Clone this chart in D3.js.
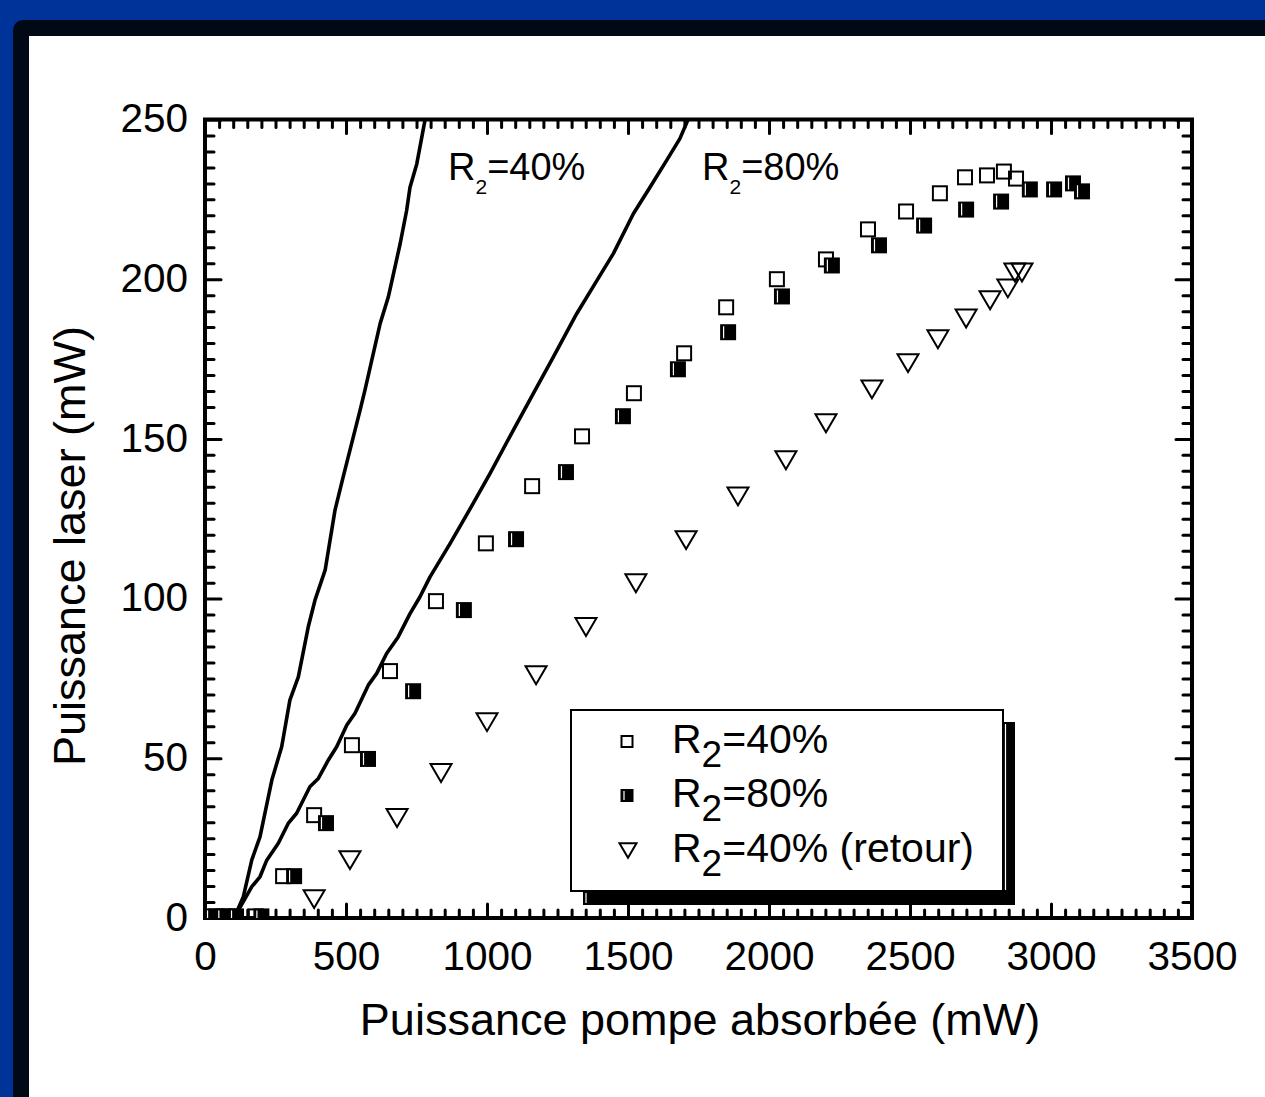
<!DOCTYPE html>
<html><head><meta charset="utf-8">
<script src="https://cdn.jsdelivr.net/npm/d3@7"></script>
<style>
html,body{margin:0;padding:0;background:#003399;}
svg{display:block;}
text{font-family:"Liberation Sans",Arial,Helvetica,sans-serif;fill:#000;}
</style></head>
<body>
<script>
// ---- data ----
const xTicks = [0, 500, 1000, 1500, 2000, 2500, 3000, 3500];
const yTicks = [0, 50, 100, 150, 200, 250];

// open squares : R2=40%
const r40x = [40, 85, 180, 277, 387, 521, 656, 819, 996, 1160, 1337, 1521, 1699, 1848, 2028, 2202, 2351, 2486, 2606, 2695, 2773, 2833, 2876];
const r40y = [0.5, 0.5, 0.5, 13.1, 32.2, 54.1, 77.3, 99.2, 117.3, 135.2, 150.8, 164.3, 176.8, 191.2, 200.0, 206.2, 215.6, 221.2, 226.9, 231.9, 232.5, 233.7, 231.5];
// filled squares : R2=80%
const r80x = [25, 65, 110, 200, 316, 429, 578, 738, 918, 1103, 1280, 1482, 1677, 1855, 2046, 2223, 2390, 2550, 2699, 2823, 2925, 3011, 3078, 3110];
const r80y = [0.5, 0.5, 0.5, 0.5, 13.1, 29.7, 49.8, 71.0, 96.4, 118.6, 139.6, 157.1, 171.8, 183.4, 194.6, 204.3, 210.6, 216.8, 221.8, 224.3, 228.1, 228.1, 230.0, 227.5];
// triangles : R2=40% (retour)
const retx = [387, 514, 681, 837, 1000, 1174, 1351, 1528, 1706, 1890, 2060, 2202, 2365, 2493, 2599, 2699, 2784, 2847, 2872, 2897];
const rety = [5.9, 18.1, 31.3, 45.4, 61.3, 76.0, 91.1, 104.8, 118.3, 132.0, 143.3, 154.9, 165.5, 173.7, 181.2, 187.7, 193.4, 197.1, 202.1, 202.1];

// theoretical curves
const th40x = [0, 103, 136, 166, 195, 237, 272, 301, 331, 366, 390, 426, 461, 490, 550, 567, 621, 650, 692, 715, 727, 751, 780, 790];
const th40y = [0, 0, 6.7, 18.2, 25.4, 43.2, 53.6, 68.2, 75.5, 91.1, 99.5, 108.9, 127.7, 138.1, 159.0, 165.2, 186.1, 194.4, 211.1, 221.5, 228.8, 236.1, 249.7, 253];
const th80x = [0, 103, 166, 195, 219, 260, 295, 325, 372, 402, 437, 467, 503, 532, 579, 609, 644, 685, 727, 762, 798, 869, 951, 1011, 1093, 1164, 1235, 1318, 1383, 1448, 1519, 1578, 1637, 1684, 1713, 1720];
const th80y = [0, 0, 9.8, 12.9, 18.1, 23.4, 29.6, 32.8, 41.1, 43.7, 49.4, 53.6, 60.4, 64.1, 72.9, 76.6, 82.8, 88.0, 95.3, 100.5, 106.8, 117.2, 129.8, 139.2, 152.7, 164.2, 175.6, 189.2, 198.6, 208.0, 220.5, 228.8, 237.2, 244.0, 250.0, 252];

const legendLabels = ["=40%", "=80%", "=40% (retour)"];
const xTitle = "Puissance pompe absorbée (mW)";
const yTitle = "Puissance laser (mW)";

// ---- drawing ----
const W = 1265, H = 1097;
const svg = d3.select("body").append("svg").attr("width", W).attr("height", H);

svg.append("rect").attr("width", W).attr("height", H).attr("fill", "#003399");
svg.append("rect").attr("x", 13).attr("y", 20).attr("width", W + 40).attr("height", H + 40)
  .attr("rx", 10).attr("fill", "#010816");
svg.append("rect").attr("x", 29).attr("y", 36).attr("width", W).attr("height", H).attr("fill", "#fff");

const x = d3.scaleLinear().domain([0, 3500]).range([205, 1192]);
const y = d3.scaleLinear().domain([0, 250]).range([918, 119.5]);

const FS = 40.5;
const tickW = 3;

svg.append("defs").append("clipPath").attr("id", "plotclip")
  .append("rect").attr("x", x(0)).attr("y", y(250)).attr("width", x(3500) - x(0)).attr("height", y(0) - y(250));

const xMinor = d3.range(0, 3501, 50).filter(v => v % 500 !== 0);
const yMinor = d3.range(0, 251, 5).filter(v => v % 50 !== 0);

function tickStyle(g) {
  g.selectAll(".domain").remove();
  g.selectAll(".tick line").attr("stroke", "#000").attr("stroke-width", tickW).attr("stroke-linecap", "round");
}

// bottom axis
const gB = svg.append("g").attr("transform", `translate(0,${y(0)})`);
gB.call(d3.axisBottom(x).tickValues(xTicks).tickSize(-14).tickFormat(d3.format("d")));
gB.append("g").call(d3.axisBottom(x).tickValues(xMinor).tickSize(-8).tickFormat(""));
tickStyle(gB);
gB.selectAll(".tick text").attr("y", 52).attr("dy", null).attr("font-size", FS)
  .attr("font-family", "'Liberation Sans',Arial,sans-serif").attr("fill", "#000");

// top axis
const gT = svg.append("g").attr("transform", `translate(0,${y(250)})`);
gT.call(d3.axisTop(x).tickValues(xTicks).tickSize(-14).tickFormat(""));
gT.append("g").call(d3.axisTop(x).tickValues(xMinor).tickSize(-8).tickFormat(""));
tickStyle(gT);

// left axis
const gL = svg.append("g").attr("transform", `translate(${x(0)},0)`);
gL.call(d3.axisLeft(y).tickValues(yTicks).tickSize(-16).tickFormat(d3.format("d")));
gL.append("g").call(d3.axisLeft(y).tickValues(yMinor).tickSize(-9).tickFormat(""));
tickStyle(gL);
gL.selectAll(".tick text").attr("x", -17).attr("dy", "0.3em").attr("font-size", FS)
  .attr("font-family", "'Liberation Sans',Arial,sans-serif").attr("fill", "#000");

// right axis
const gR = svg.append("g").attr("transform", `translate(${x(3500)},0)`);
gR.call(d3.axisRight(y).tickValues(yTicks).tickSize(-16).tickFormat(""));
gR.append("g").call(d3.axisRight(y).tickValues(yMinor).tickSize(-9).tickFormat(""));
tickStyle(gR);

// frame
svg.append("rect").attr("x", x(0)).attr("y", y(250)).attr("width", x(3500) - x(0)).attr("height", y(0) - y(250))
  .attr("fill", "none").attr("stroke", "#000").attr("stroke-width", 4);

const plot = svg.append("g").attr("clip-path", "url(#plotclip)");

// theory lines
const line = d3.line().x(d => x(d[0])).y(d => y(d[1]));
[[th40x, th40y], [th80x, th80y]].forEach(([xs, ys]) => {
  plot.append("path").datum(d3.zip(xs, ys)).attr("d", line)
    .attr("fill", "none").attr("stroke", "#000").attr("stroke-width", 3.6).attr("stroke-linejoin", "round");
});

// markers
const S = 14;
function openSquare(g, cx, cy, s) {
  g.append("rect").attr("x", cx - s / 2).attr("y", cy - s / 2).attr("width", s).attr("height", s)
    .attr("fill", "none").attr("stroke", "#000").attr("stroke-width", 2);
}
function filledSquare(g, cx, cy, s) {
  g.append("rect").attr("x", cx - s / 2).attr("y", cy - s / 2).attr("width", s).attr("height", s)
    .attr("fill", "#000").attr("stroke", "#000").attr("stroke-width", 2);
  g.append("line").attr("x1", cx - s / 2 + 2.5).attr("x2", cx - s / 2 + 2.5)
    .attr("y1", cy - s / 2 + 1).attr("y2", cy + s / 2 - 1)
    .attr("stroke", "#fff").attr("stroke-width", 1.2);
}
function triangle(g, cx, cy, w) {
  const h = w * 0.85;
  const p = d3.path();
  p.moveTo(cx - w / 2, cy - h / 2); p.lineTo(cx + w / 2, cy - h / 2); p.lineTo(cx, cy + h / 2); p.closePath();
  g.append("path").attr("d", p.toString()).attr("fill", "none").attr("stroke", "#000")
    .attr("stroke-width", 2).attr("stroke-linejoin", "miter");
}
r40x.forEach((v, i) => openSquare(plot, x(v), y(r40y[i]), S));
r80x.forEach((v, i) => filledSquare(plot, x(v), y(r80y[i]), S));
retx.forEach((v, i) => triangle(plot, x(v), y(rety[i]), 21));

// annotations on curves
function rsub(g, tx, ty, fs, subfs, subdy, rest) {
  const t = g.append("text").attr("x", tx).attr("y", ty).attr("font-size", fs);
  t.append("tspan").text("R");
  t.append("tspan").attr("font-size", subfs).attr("dy", subdy).text("2");
  t.append("tspan").attr("dy", -subdy).text(rest);
  return t;
}
rsub(svg, 448, 180, 38, 21, 14, "=40%");
rsub(svg, 702, 180, 38, 21, 14, "=80%");

// legend
const lg = svg.append("g");
lg.append("rect").attr("x", 583).attr("y", 722).attr("width", 432).attr("height", 183).attr("fill", "#000");
lg.append("line").attr("x1", 586).attr("x2", 586).attr("y1", 893).attr("y2", 903).attr("stroke", "#fff").attr("stroke-width", 1.2);
lg.append("line").attr("x1", 1005.5).attr("x2", 1005.5).attr("y1", 724).attr("y2", 890).attr("stroke", "#fff").attr("stroke-width", 1.2);
lg.append("rect").attr("x", 571).attr("y", 710).attr("width", 432).attr("height", 181)
  .attr("fill", "#fff").attr("stroke", "#000").attr("stroke-width", 2);
const rowsY = [741.5, 795.5, 850.5];
openSquare(lg, 627, rowsY[0], 11);
filledSquare(lg, 627, rowsY[1], 11);
triangle(lg, 628, rowsY[2], 17);
legendLabels.forEach((lab, i) => {
  rsub(lg, 672, rowsY[i] + 11, 41, 37, 14, lab);
});

// axis titles
svg.append("text").attr("x", 700).attr("y", 1035).attr("text-anchor", "middle").attr("font-size", 45).text(xTitle);
svg.append("text").attr("transform", "translate(85,546) rotate(-90)").attr("text-anchor", "middle")
  .attr("font-size", 45).text(yTitle);
</script>
</body></html>
